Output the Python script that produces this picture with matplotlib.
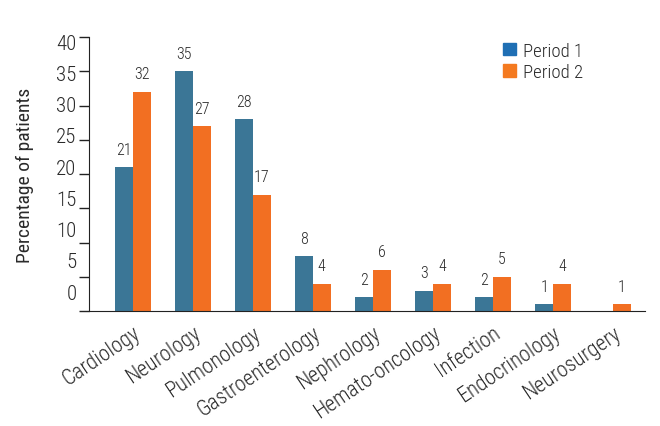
import numpy as np
import matplotlib
matplotlib.use("Agg")
import matplotlib.pyplot as plt
from matplotlib.patches import Patch

categories = ["Cardiology", "Neurology", "Pulmonology", "Gastroenterology", "Nephrology",
              "Hemato-oncology", "Infection", "Endocrinology", "Neurosurgery"]
period1 = [21, 35, 28, 8, 2, 3, 2, 1, 0]
period2 = [32, 27, 17, 4, 6, 4, 5, 4, 1]
ytick_values = [0, 5, 10, 15, 20, 25, 30, 35, 40]

plt.rcParams['font.family'] = ['Roboto Condensed', 'Roboto', 'DejaVu Sans']
plt.rcParams['font.weight'] = 'light'

blue = '#3b7696'
orange = '#f26f22'
text_col = '#2a2a2a'

fig = plt.figure(figsize=(6.6, 4.27), dpi=100)
ax = fig.add_axes([0.135, 0.269, 0.842, 0.642])

x = np.arange(len(categories))
w = 0.295
ax.bar(x - w/2, period1, w, color=blue)
ax.bar(x + w/2, period2, w, color=orange)

for xi, v in zip(x, period1):
	if v > 0:
		ax.annotate(str(v), (xi - w/2, v), xytext=(0, 13), textcoords='offset points',
			ha='center', va='center', fontsize=11.5, color=text_col)
for xi, v in zip(x, period2):
	if v > 0:
		ax.annotate(str(v), (xi + w/2, v), xytext=(0, 13), textcoords='offset points',
			ha='center', va='center', fontsize=11.5, color=text_col)

ax.set_xlim(-0.73, 8.53)
ax.set_ylim(0, 40)

# tick marks sit at the true values, the labels are drawn a little off (as in the source)
ax.set_yticks(ytick_values, minor=True)
ax.set_yticks([2.9 + v * 0.9125 for v in ytick_values])
ax.set_yticklabels([str(v) for v in ytick_values])
ax.tick_params(axis='y', which='major', length=0, pad=9, labelsize=15, labelcolor=text_col)
ax.tick_params(axis='y', which='minor', length=7, width=1, color='#222222')

ax.set_xticks(x)
ax.set_xticklabels(categories, rotation=34, ha='right', rotation_mode='anchor',
	fontsize=15.5, color=text_col)
ax.tick_params(axis='x', length=0, pad=8)

for s in ['top', 'right']:
	ax.spines[s].set_visible(False)
ax.spines['left'].set_color('#222222')
ax.spines['bottom'].set_color('#222222')

ax.set_ylabel('Percentage of patients', fontsize=14, color=text_col, labelpad=16)

handles = [Patch(color='#1f6fb4'), Patch(color='#f47a20')]
ax.legend(handles, ['Period 1', 'Period 2'], loc='upper left', bbox_to_anchor=(0.715, 1.045),
	frameon=False, fontsize=13.5, handlelength=0.65, handleheight=0.65, handletextpad=0.4,
	labelspacing=0.2, labelcolor=text_col)

fig.savefig('out.png', dpi=100)
